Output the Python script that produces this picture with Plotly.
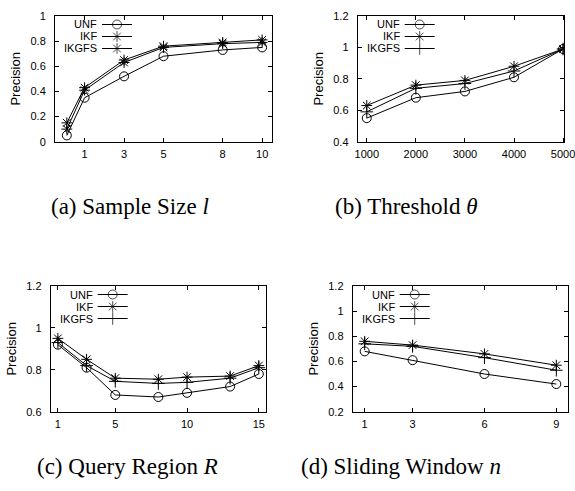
import plotly.graph_objects as go

series_names = ["UNF", "IKF", "IKGFS"]

# (a) Sample Size l
a_x = [0.1, 1, 3, 5, 8, 10]
a_unf = [0.05, 0.35, 0.52, 0.68, 0.73, 0.75]
a_ikf = [0.15, 0.43, 0.65, 0.76, 0.79, 0.81]
a_ikgfs = [0.10, 0.41, 0.63, 0.75, 0.78, 0.79]
a_xticks = [1, 3, 5, 8, 10]
a_yticks = [0, 0.2, 0.4, 0.6, 0.8, 1]

# (b) Threshold theta
b_x = [1000, 2000, 3000, 4000, 5000]
b_unf = [0.55, 0.68, 0.72, 0.81, 0.99]
b_ikf = [0.63, 0.76, 0.79, 0.88, 0.99]
b_ikgfs = [0.59, 0.74, 0.77, 0.85, 0.99]
b_xticks = [1000, 2000, 3000, 4000, 5000]
b_yticks = [0.4, 0.6, 0.8, 1, 1.2]

# (c) Query Region R
c_x = [1, 3, 5, 8, 10, 13, 15]
c_unf = [0.92, 0.81, 0.68, 0.67, 0.69, 0.72, 0.78]
c_ikf = [0.95, 0.85, 0.76, 0.755, 0.765, 0.77, 0.82]
c_ikgfs = [0.93, 0.82, 0.745, 0.735, 0.74, 0.76, 0.81]
c_xticks = [1, 5, 10, 15]
c_yticks = [0.6, 0.8, 1, 1.2]

# (d) Sliding Window n
d_x = [1, 3, 6, 9]
d_unf = [0.68, 0.61, 0.50, 0.42]
d_ikf = [0.76, 0.73, 0.66, 0.57]
d_ikgfs = [0.74, 0.72, 0.63, 0.53]
d_xticks = [1, 3, 6, 9]
d_yticks = [0.2, 0.4, 0.6, 0.8, 1, 1.2]

captions = [
    "(a) Sample Size <i>l</i>",
    "(b) Threshold <i>θ</i>",
    "(c) Query Region <i>R</i>",
    "(d) Sliding Window <i>n</i>",
]

W, H = 575, 491
SANS = "Liberation Sans, Arial, sans-serif"
SERIF = "Liberation Serif, Times New Roman, serif"

panels = [
    dict(x=a_x, ys=[a_unf, a_ikf, a_ikgfs], xt=a_xticks, yt=a_yticks,
         xr=[-0.5, 10.5], yr=[0, 1], px=(55, 272), py=(16, 141.7),
         syms=["circle-open", "asterisk-open", "asterisk-open"]),
    dict(x=b_x, ys=[b_unf, b_ikf, b_ikgfs], xt=b_xticks, yt=b_yticks,
         xr=[815, 5025], yr=[0.4, 1.2], px=(357.7, 564.3), py=(16, 141.7),
         syms=["circle-open", "asterisk-open", "cross-thin-open"]),
    dict(x=c_x, ys=[c_unf, c_ikf, c_ikgfs], xt=c_xticks, yt=c_yticks,
         xr=[0.5, 15.5], yr=[0.6, 1.2], px=(50.7, 266), py=(286, 411.7),
         syms=["circle-open", "asterisk-open", "cross-thin-open"]),
    dict(x=d_x, ys=[d_unf, d_ikf, d_ikgfs], xt=d_xticks, yt=d_yticks,
         xr=[0.5, 9.5], yr=[0.2, 1.2], px=(352.7, 568.3), py=(286, 411.7),
         syms=["circle-open", "asterisk-open", "cross-thin-open"]),
]

# legend key geometry (pixels relative to plot-area top-left)
KEY_TEXT_RIGHT = 43
KEY_LINE = (47, 77)
KEY_ROWS = [8.5, 20.5, 32.5]

fig = go.Figure()
layout = dict(
    width=W, height=H, autosize=False,
    margin=dict(l=0, r=0, t=0, b=0, autoexpand=False),
    paper_bgcolor="white", plot_bgcolor="white",
    font=dict(family=SANS, size=11, color="black"),
    showlegend=False,
    annotations=[],
)

cap_pos = [(130, 207), (406, 207), (127, 466), (401, 466)]

for i, p in enumerate(panels):
    n = "" if i == 0 else str(i + 1)
    xa, ya = "x" + n, "y" + n
    x0, x1 = p["px"]
    y0, y1 = p["py"]
    pw, ph = x1 - x0, y1 - y0
    xr0, xr1 = p["xr"]
    yr0, yr1 = p["yr"]
    for k, (name, ys, sym) in enumerate(zip(series_names, p["ys"], p["syms"])):
        fig.add_trace(go.Scatter(
            x=p["x"], y=ys, name=name, mode="lines+markers",
            xaxis=xa, yaxis=ya,
            line=dict(color="black", width=1),
            marker=dict(symbol=sym, size=9, color="black",
                        line=dict(color="black", width=1)),
        ))
        # gnuplot-style key entry: text, then line sample with marker
        kx = [xr0 + (KEY_LINE[0] / pw) * (xr1 - xr0),
              xr0 + ((KEY_LINE[0] + KEY_LINE[1]) / 2 / pw) * (xr1 - xr0),
              xr0 + (KEY_LINE[1] / pw) * (xr1 - xr0)]
        ky = yr1 - (KEY_ROWS[k] / ph) * (yr1 - yr0)
        fig.add_trace(go.Scatter(
            x=kx, y=[ky] * 3, mode="lines+markers", xaxis=xa, yaxis=ya,
            hoverinfo="skip", showlegend=False,
            line=dict(color="black", width=1),
            marker=dict(symbol=sym, size=[0, 9, 0], color="black",
                        line=dict(color="black", width=1)),
        ))
        layout["annotations"].append(dict(
            text=name, xref=xa + " domain", yref=ya + " domain",
            x=KEY_TEXT_RIGHT / pw, y=1 - KEY_ROWS[k] / ph,
            xanchor="right", yanchor="middle", showarrow=False,
            borderpad=0,
            font=dict(family=SANS, size=11, color="black"),
        ))
    axis_common = dict(
        showline=True, linecolor="black", linewidth=1, mirror="ticks",
        ticks="inside", ticklen=4, tickcolor="black", tickwidth=1,
        showgrid=False, zeroline=False, automargin=False,
        ticklabeloverflow="allow",
        tickfont=dict(family=SANS, size=11, color="black"),
    )
    layout["xaxis" + n] = dict(
        axis_common, domain=[x0 / W, x1 / W], range=p["xr"],
        tickvals=p["xt"], anchor=ya, ticklabelstandoff=2,
    )
    layout["yaxis" + n] = dict(
        axis_common, domain=[1 - y1 / H, 1 - y0 / H], range=p["yr"],
        tickvals=p["yt"], anchor=xa, ticklabelstandoff=6,
        title=dict(text="Precision", font=dict(family=SANS, size=13),
                   standoff=6),
    )
    cx, cy = cap_pos[i]
    layout["annotations"].append(dict(
        text=captions[i], x=cx / W, y=1 - cy / H, xref="paper", yref="paper",
        xanchor="center", yanchor="middle", showarrow=False,
        font=dict(family=SERIF, size=23, color="black"),
    ))

fig.update_layout(**layout)
fig.write_html(
    "out.html",
    config={"displayModeBar": False},
    post_script="document.body.style.margin='0';document.body.style.overflow='hidden';",
)
